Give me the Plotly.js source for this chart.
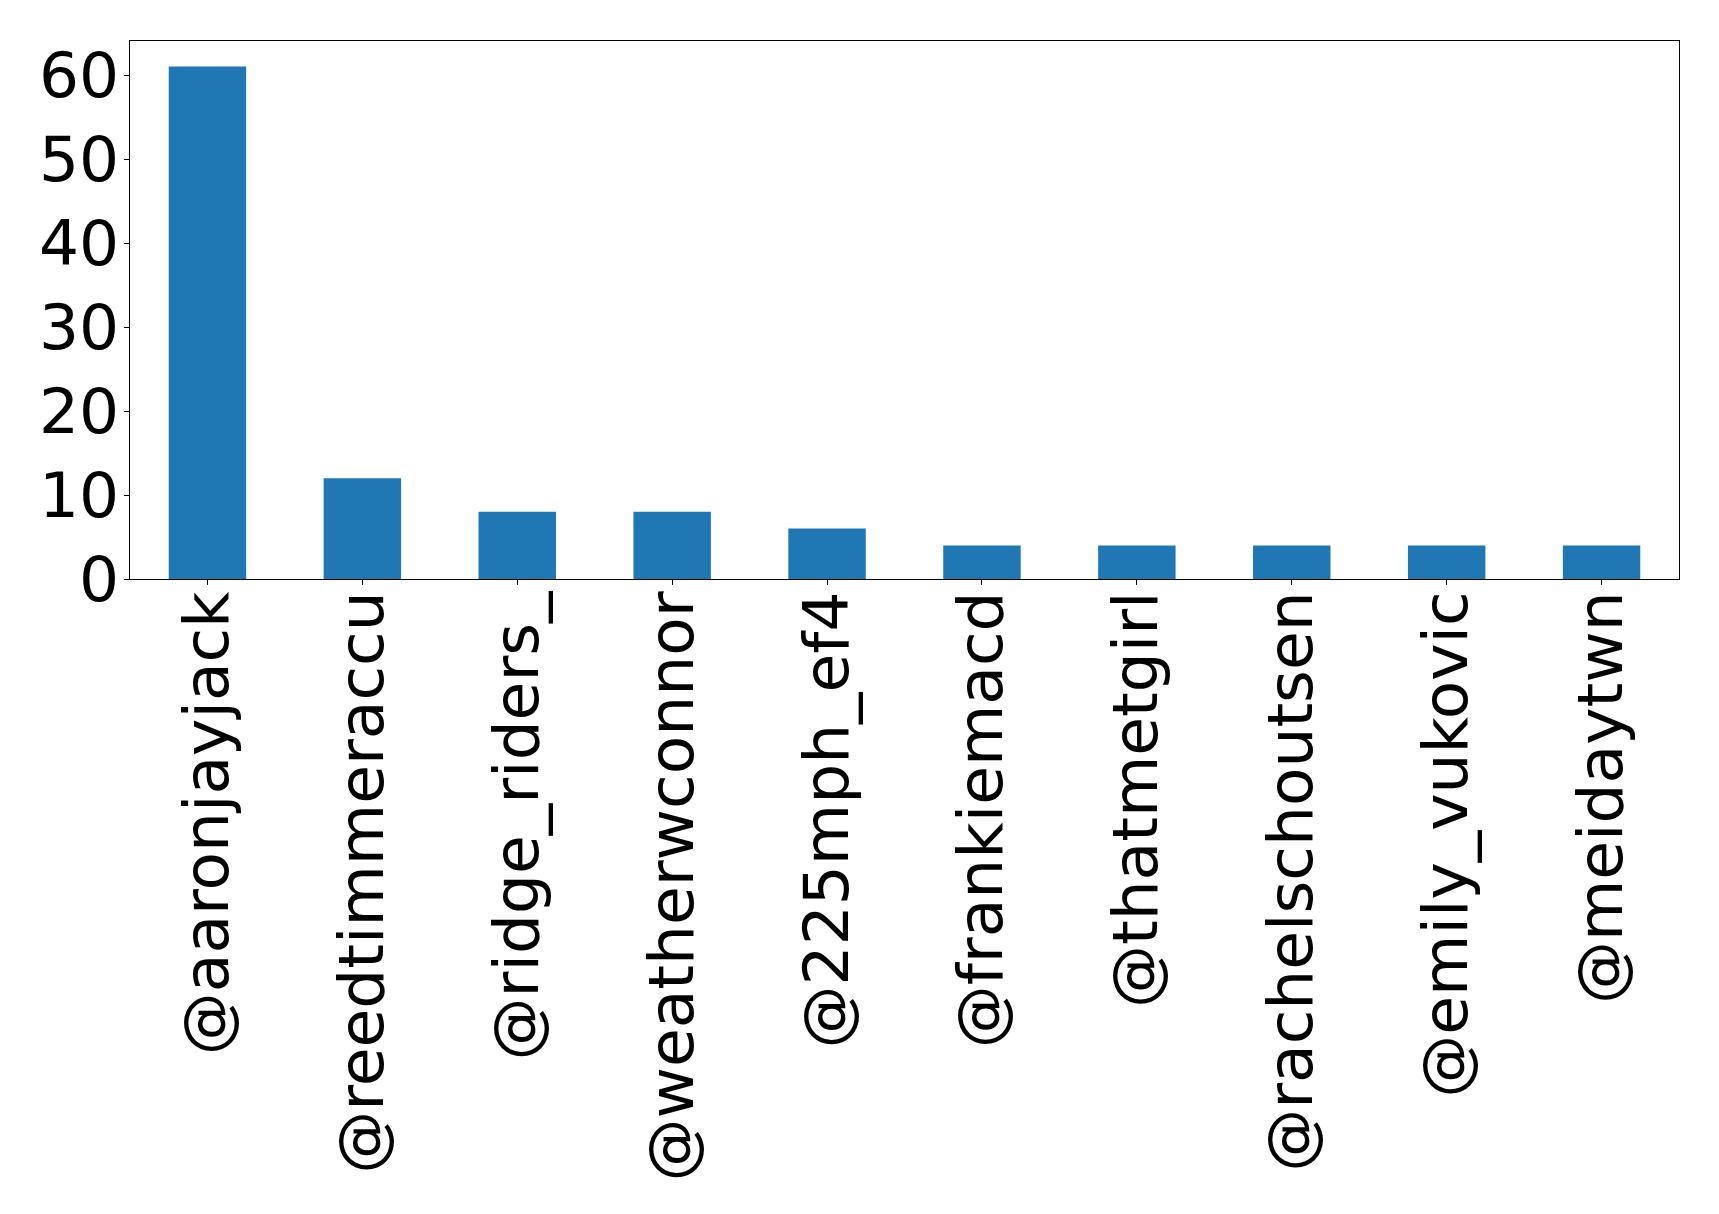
<!DOCTYPE html>
<html>
<head>
<meta charset="utf-8">
<script src="https://cdn.plot.ly/plotly-3.0.1.min.js"></script>
<style>html,body{margin:0;padding:0;background:#fff;}#chart{width:1719px;height:1214px;}</style>
</head>
<body>
<div id="chart"></div>
<script>
const accounts = ["@aaronjayjack","@reedtimmeraccu","@ridge_riders_","@weatherwconnor","@225mph_ef4","@frankiemacd","@thatmetgirl","@rachelschoutsen","@emily_vukovic","@meidaytwn"];
const counts = [61, 12, 8, 8, 6, 4, 4, 4, 4, 4];
const yTicks = [0, 10, 20, 30, 40, 50, 60];

const trace = {
  type: "bar",
  x: accounts.map((a, i) => i),
  y: counts,
  width: 0.5,
  marker: {color: "#1f77b4", line: {width: 0}},
  hoverinfo: "x+y"
};

const layout = {
  width: 1719,
  height: 1214,
  paper_bgcolor: "#fff",
  plot_bgcolor: "#fff",
  showlegend: false,
  margin: {l: 129.5, r: 39.7, t: 40.5, b: 635, pad: 0},
  font: {family: "DejaVu Sans", size: 63, color: "#000"},
  xaxis: {
    range: [-0.5, 9.5],
    tickmode: "array",
    tickvals: accounts.map((a, i) => i),
    ticktext: accounts,
    tickangle: -90,
    ticks: "outside",
    ticklen: 5,
    tickwidth: 1,
    tickcolor: "#000",
    ticklabelstandoff: -19,
    showline: true,
    linecolor: "#000",
    linewidth: 1.2,
    mirror: true,
    showgrid: false,
    zeroline: false,
    tickfont: {family: "DejaVu Sans", size: 63, color: "#000"}
  },
  yaxis: {
    range: [0, 64.05],
    tickmode: "array",
    tickvals: yTicks,
    ticktext: yTicks.map(String),
    ticks: "outside",
    ticklen: 5,
    tickwidth: 1,
    tickcolor: "#000",
    ticklabelstandoff: -8,
    showline: true,
    linecolor: "#000",
    linewidth: 1.2,
    mirror: true,
    showgrid: false,
    zeroline: false,
    tickfont: {family: "DejaVu Sans", size: 63, color: "#000"}
  }
};

Plotly.newPlot("chart", [trace], layout, {displayModeBar: false, staticPlot: true});
</script>
</body>
</html>
